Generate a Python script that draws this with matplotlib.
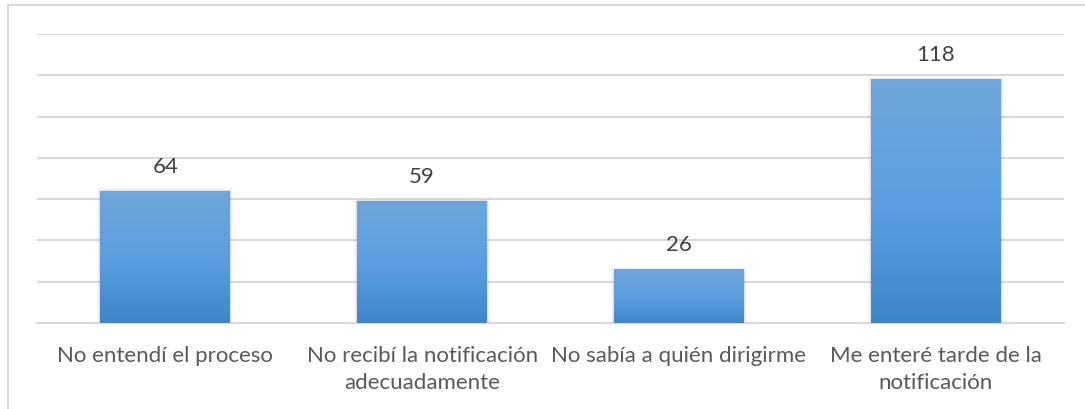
import matplotlib.pyplot as plt
import numpy as np
from matplotlib.colors import LinearSegmentedColormap
from matplotlib.lines import Line2D

categories = ["No entendí el proceso", "No recibí la notificación\nadecuadamente",
              "No sabía a quién dirigirme", "Me enteré tarde de la\nnotificación"]
values = [64, 59, 26, 118]

plt.rcParams['font.family'] = ['Lato', 'DejaVu Sans']

fig = plt.figure(figsize=(10.85, 4.10), dpi=100)
W, H = 1085, 410
ax = fig.add_axes([37 / W, 1 - 324 / H, (1064 - 37) / W, (324 - 35) / H])

x = np.arange(len(values))
bars = ax.bar(x, values, width=0.506, color="none", edgecolor="none", zorder=3)

# vertical gradient inside each bar
cmap = LinearSegmentedColormap.from_list("g", ["#3f86c8", "#5b9fe0", "#6fa6da"])
grad = np.linspace(0, 1, 256).reshape(-1, 1)
for b in bars:
    x0, w, h = b.get_x(), b.get_width(), b.get_height()
    # soft shadow
    for i, a in enumerate([0.06, 0.04, 0.02]):
        d = 0.004 * (i + 1)
        ax.add_patch(plt.Rectangle((x0 - d, 0), w + 2 * d, h + 0.4 * (i + 1),
                                   color="black", alpha=a, lw=0, zorder=2))
    im = ax.imshow(grad, extent=[x0, x0 + w, 0, h], origin="lower",
                   cmap=cmap, aspect="auto", zorder=3)
    im.set_clip_path(b)

for xi, v in zip(x, values):
    ax.annotate(str(v), (xi, v), xytext=(0, 18), textcoords="offset points",
                ha="center", va="center", fontsize=16, color="#404040")

ax.set_xlim(-0.5, 3.5)
ax.set_ylim(0, 140)
ax.set_yticks(np.arange(0, 141, 20))
ax.yaxis.grid(True, color="#d9d9d9", lw=1.5, zorder=0)
ax.set_yticklabels([])
ax.tick_params(axis="y", length=0)
ax.tick_params(axis="x", length=0, pad=16)
ax.set_xticks(x)
ax.set_xticklabels(categories, fontsize=16, color="#595959", linespacing=1.4)
for s in ["top", "right", "left"]:
    ax.spines[s].set_visible(False)
ax.spines["bottom"].set_color("#d9d9d9")
ax.spines["bottom"].set_linewidth(1.5)
ax.set_axisbelow(True)

# outer chart border
fig.add_artist(Line2D([8 / W, 8 / W], [0, 1 - 6 / H], color="#d9d9d9", lw=1.5))
fig.add_artist(Line2D([8 / W, 1], [1 - 6 / H, 1 - 6 / H], color="#d9d9d9", lw=1.5))

fig.savefig("out.png", dpi=100)
